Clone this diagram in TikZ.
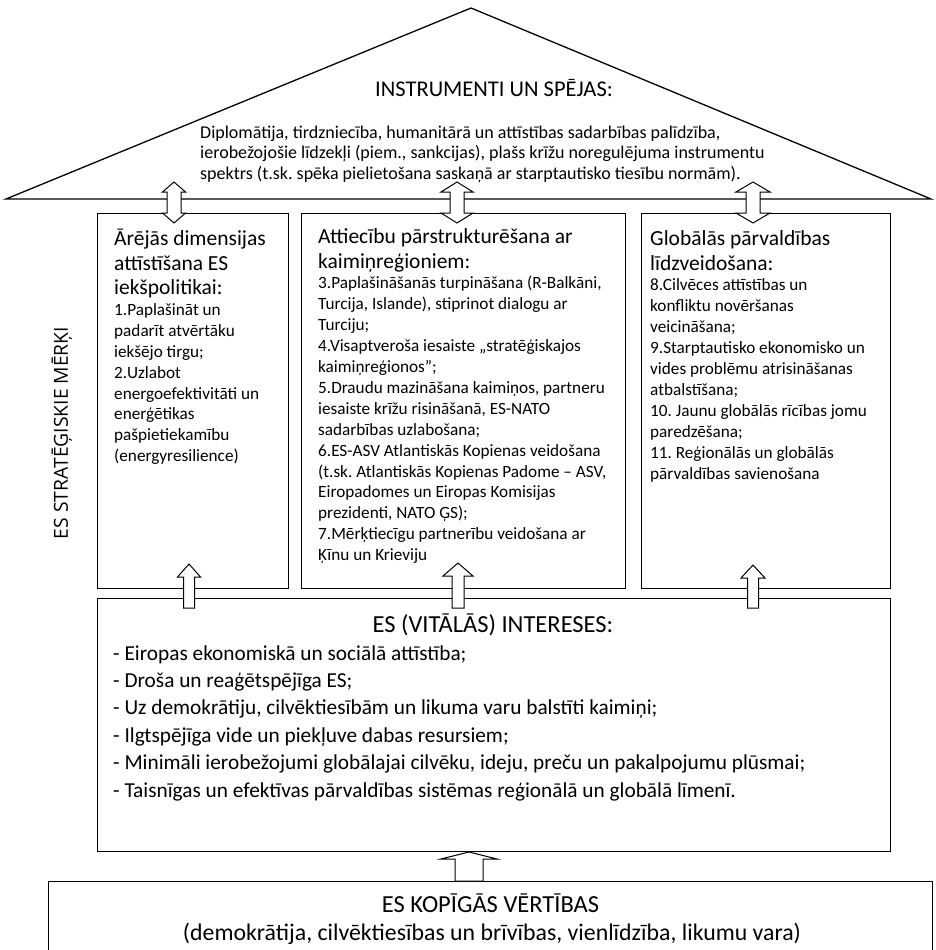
\documentclass[tikz,border=0pt]{standalone}
\usepackage{fontspec}
\setmainfont{Carlito}
\newfontfamily\labelfont{Open Sans}
\frenchspacing
\newcommand\hdfont{\fontsize{21.5}{24.5}\selectfont}
\newcommand\dblarrow[6]{\draw[barrow] (#1,#2) -- (#1+#5,#2+#6) -- (#1+#4,#2+#6) -- (#1+#4,#3-#6) -- (#1+#5,#3-#6) -- (#1,#3) -- (#1-#5,#3-#6) -- (#1-#4,#3-#6) -- (#1-#4,#2+#6) -- (#1-#5,#2+#6) -- cycle;}
\newcommand\uparr[6]{\draw[barrow] (#1,#2) -- (#1+#5,#2+#6) -- (#1+#4,#2+#6) -- (#1+#4,#3) -- (#1-#4,#3) -- (#1-#4,#2+#6) -- (#1-#5,#2+#6) -- cycle;}
\begin{document}
\begin{tikzpicture}[x=1pt,y=-1pt,
  box/.style={draw, line width=1.3pt, inner sep=0pt, anchor=north west},
  barrow/.style={draw, fill=white, line width=1pt, line join=miter},
  coltext/.style={anchor=base west, inner sep=0pt, align=flush left, text width=400pt, font=\fontsize{17.2}{20.9}\selectfont},
]
\useasboundingbox (0,0) rectangle (935,950);
% roof
\coordinate (rl) at (6,199);
\coordinate (rt) at (471,8);
\coordinate (rr) at (931,199);
\draw[line width=1.3pt, line join=miter] (rl) -- (rt) -- (rr) -- cycle;
\node[anchor=base, inner sep=0pt, font=\fontsize{22.5}{26}\selectfont] (rooftitle) at (494,96.5) {INSTRUMENTI UN SPĒJAS:};
\node[anchor=base west, inner sep=0pt, align=flush left, text width=700pt, font=\fontsize{18}{20.5}\selectfont] (roofbody) at (200,138)
 {Diplomātija, tirdzniecība, humanitārā un attīstības sadarbības palīdzība,\\
  ierobežojošie līdzekļi (piem., sankcijas), plašs krīžu noregulējuma instrumentu\\
  spektrs (t.sk. spēka pielietošana saskaņā ar starptautisko tiesību normām).};
% columns
\node[box, minimum width=191pt, minimum height=375pt] (colA) at (97,213) {};
\node[box, minimum width=324pt, minimum height=375pt] (colB) at (301,213) {};
\node[box, minimum width=249pt, minimum height=375pt] (colC) at (641,213) {};
\node[box, minimum width=793pt, minimum height=253pt] (inter) at (97,598) {};
\node[box, minimum width=884pt, minimum height=100pt] (values) at (48,881) {};
% column texts
\node[coltext] (txtA) at (114,245.5)
 {{\hdfont Ārējās dimensijas\\ attīstīšana ES\\ iekšpolitikai:\par}1.Paplašināt un\\ padarīt atvērtāku\\ iekšējo tirgu;\\ 2.Uzlabot\\ energoefektivitāti un\\ enerģētikas\\ pašpietiekamību\\ (energyresilience)};
\node[coltext] (txtB) at (318,243.5)
 {{\hdfont Attiecību pārstrukturēšana ar\\ kaimiņreģioniem:\par}3.Paplašināšanās turpināšana (R-Balkāni,\\ Turcija, Islande), stiprinot dialogu ar\\ Turciju;\\ 4.Visaptveroša iesaiste „stratēģiskajos\\ kaimiņreģionos”;\\ 5.Draudu mazināšana kaimiņos, partneru\\ iesaiste krīžu risināšanā, ES-NATO\\ sadarbības uzlabošana;\\ 6.ES-ASV Atlantiskās Kopienas veidošana\\ (t.sk. Atlantiskās Kopienas Padome – ASV,\\ Eiropadomes un Eiropas Komisijas\\ prezidenti, NATO ĢS);\\ 7.Mērķtiecīgu partnerību veidošana ar\\ Ķīnu un Krieviju};
\node[coltext] (txtC) at (650,245.5)
 {{\hdfont Globālās pārvaldības\\ līdzveidošana:\par}8.Cilvēces attīstības un\\ konfliktu novēršanas\\ veicināšana;\\ 9.Starptautisko ekonomisko un\\ vides problēmu atrisināšanas\\ atbalstīšana;\\ 10. Jaunu globālās rīcības jomu\\ paredzēšana;\\ 11. Reģionālās un globālās\\ pārvaldības savienošana};
% interests
\node[anchor=base, inner sep=0pt, font=\fontsize{24.5}{28}\selectfont] (intertitle) at (493,632.5) {ES (VITĀLĀS) INTERESES:};
\node[anchor=base west, inner sep=0pt, align=flush left, text width=800pt, font=\fontsize{21.3}{27.4}\selectfont] (interbody) at (113,660)
 {- Eiropas ekonomiskā un sociālā attīstība;\\
  - Droša un reaģētspējīga ES;\\
  - Uz demokrātiju, cilvēktiesībām un likuma varu balstīti kaimiņi;\\
  - Ilgtspējīga vide un piekļuve dabas resursiem;\\
  - Minimāli ierobežojumi globālajai cilvēku, ideju, preču un pakalpojumu plūsmai;\\
  - Taisnīgas un efektīvas pārvaldības sistēmas reģionālā un globālā līmenī.};
% values
\node[anchor=base, inner sep=0pt, font=\fontsize{24.5}{28}\selectfont] (valtitle) at (490.5,912) {ES KOPĪGĀS VĒRTĪBAS};
\node[anchor=base, inner sep=0pt, font=\fontsize{23.8}{28}\selectfont] (valbody) at (492,940.5) {(demokrātija, cilvēktiesības un brīvības, vienlīdzība, likumu vara)};
% side label
\node[rotate=90, inner sep=0pt, font=\labelfont\fontsize{19.3}{22}\selectfont] (goals) at (62,433) {ES STRATĒĢISKIE MĒRĶI};
% arrows
\dblarrow{174}{182}{223}{7}{11.5}{10}
\dblarrow{457}{182}{223}{7}{16}{10}
\dblarrow{753}{182}{223}{7}{17}{10}
\uparr{189}{564}{608}{5.5}{11.5}{13}
\uparr{458}{563}{608}{6}{15}{13}
\uparr{753}{565}{608}{5.5}{12}{13}
\uparr{469}{852}{881}{14}{28}{7}
\end{tikzpicture}
\end{document}
